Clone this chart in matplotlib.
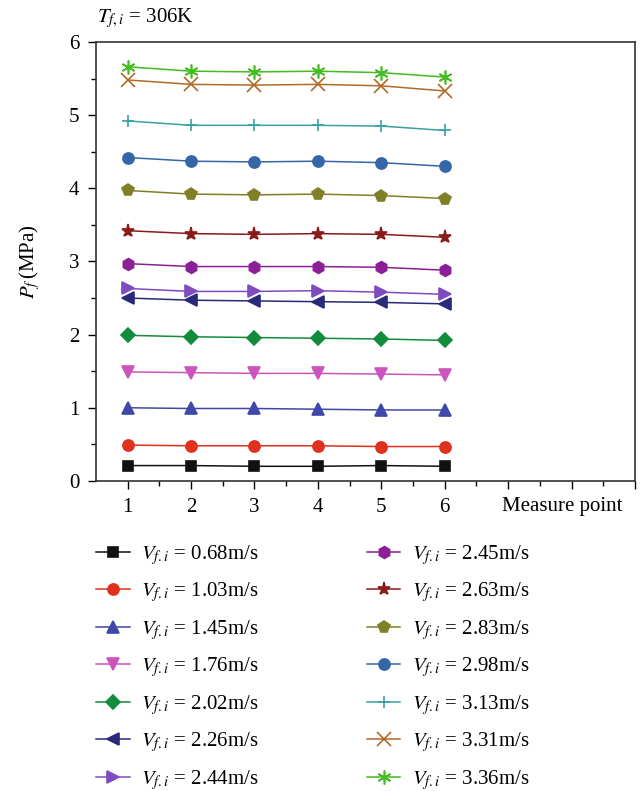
import matplotlib
matplotlib.use("Agg")
import matplotlib.pyplot as plt
import numpy as np

plt.rcParams['font.family'] = ['Liberation Serif', 'DejaVu Serif']
plt.rcParams['mathtext.fontset'] = 'stix'

points = [1, 2, 3, 4, 5, 6]
speeds = ['0.68', '1.03', '1.45', '1.76', '2.02', '2.26', '2.44',
          '2.45', '2.63', '2.83', '2.98', '3.13', '3.31', '3.36']

p_068 = [0.21, 0.21, 0.20, 0.20, 0.21, 0.20]
p_103 = [0.49, 0.48, 0.48, 0.48, 0.47, 0.47]
p_145 = [1.00, 0.99, 0.99, 0.98, 0.97, 0.97]
p_176 = [1.49, 1.48, 1.47, 1.47, 1.46, 1.45]
p_202 = [1.99, 1.97, 1.96, 1.95, 1.94, 1.92]
p_226 = [2.50, 2.47, 2.46, 2.45, 2.44, 2.42]
p_244 = [2.63, 2.59, 2.59, 2.60, 2.58, 2.55]
p_245 = [2.97, 2.93, 2.93, 2.93, 2.92, 2.88]
p_263 = [3.42, 3.38, 3.37, 3.38, 3.37, 3.33]
p_283 = [3.97, 3.92, 3.91, 3.92, 3.90, 3.86]
p_298 = [4.42, 4.37, 4.36, 4.37, 4.35, 4.30]
p_313 = [4.92, 4.86, 4.86, 4.86, 4.85, 4.79]
p_331 = [5.48, 5.42, 5.41, 5.42, 5.40, 5.33]
p_336 = [5.66, 5.60, 5.59, 5.60, 5.58, 5.52]

series = [p_068, p_103, p_145, p_176, p_202, p_226, p_244,
          p_245, p_263, p_283, p_298, p_313, p_331, p_336]

colors = ['#111111', '#e0301e', '#3f48a8', '#cc55bb', '#128c3a', '#2a2a7a', '#7f4cc0',
          '#8b1f96', '#8b1a1a', '#807f28', '#3567a8', '#3aa0a0', '#b06a28', '#44bb22']
markers = ['s', 'o', '^', 'v', 'D', '<', '>', 'h', '*', 'p', 'o', '+', 'x', (6, 2, 0)]
msizes = [7, 8, 8.5, 8.5, 7, 8.5, 8.5, 8.5, 9.5, 8.5, 8, 9, 10, 10]

fig = plt.figure(figsize=(6.42, 7.91), dpi=100)
ax = fig.add_axes([0.1495, 0.392, 0.8395, 0.555])

handles = []
for vals, sp, c, m, ms in zip(series, speeds, colors, markers, msizes):
    h, = ax.plot(points, vals, color=c, lw=1.1, marker=m, ms=ms, mec=c, mew=1.2,
                 label=r'$V_{f.i}$ = ' + sp + 'm/s')
    handles.append(h)

ax.set_xlim(0.5, 9)
ax.set_ylim(0, 6)
ax.set_xticks(np.arange(1, 10))
ax.set_xticklabels(['1', '2', '3', '4', '5', '6', '', '', ''])
ax.set_xticks(np.arange(1.5, 9, 1), minor=True)
ax.set_yticks(np.arange(0, 7))
ax.set_yticks(np.arange(0.5, 6, 1), minor=True)
ax.tick_params(which='both', direction='out', top=False, right=False, labelsize=15)
ax.tick_params(which='major', length=6, width=1, pad=6)
ax.tick_params(which='minor', length=3.5, width=1)
for s in ax.spines.values():
    s.set_linewidth(1.2)
    s.set_color('#333333')

ax.text(7.85, -0.22, 'Measure point', ha='center', va='top', fontsize=15)
ax.set_ylabel(r'$P_f\,$(MPa)', fontsize=15, labelpad=19)
fig.text(0.151, 0.992, r'$T_{f,i}$ = 306K', fontsize=15, ha='left', va='top')

fig.legend(handles=handles, ncol=2, loc='upper left', bbox_to_anchor=(0.137, 0.324),
           frameon=False, fontsize=15, handlelength=1.6, handletextpad=0.55,
           labelspacing=0.65, columnspacing=5.2, borderaxespad=0)

fig.savefig('out.png', dpi=100)
